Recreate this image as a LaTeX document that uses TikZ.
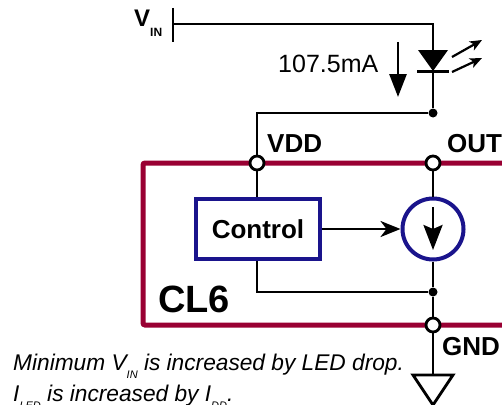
\documentclass[tikz,border=0pt]{standalone}
\usepackage{fontspec}
\setmainfont{Liberation Sans}
\usetikzlibrary{arrows.meta}
\definecolor{cred}{RGB}{153,0,51}
\definecolor{cblue}{RGB}{26,20,140}
\newcommand\subtxt[2]{\raisebox{#1}{\fontsize{11}{11}\selectfont #2}}
\begin{document}
\begin{tikzpicture}[x=1pt,y=-1pt,
  wire/.style={line width=2.8pt},
  pin/.style={circle,draw,fill=white,line width=2.8pt,minimum size=14pt,inner sep=0pt},
  dot/.style={circle,fill,minimum size=9pt,inner sep=0pt},
  lbl/.style={font=\fontsize{26}{26}\selectfont\bfseries,inner sep=0pt,anchor=base west},
  note/.style={font=\fontsize{22.7}{22.7}\selectfont\itshape,inner sep=0pt,anchor=base west},
  bluebox/.style={draw=cblue,line width=3.5pt,fill=white,minimum width=124pt,minimum height=60pt,inner sep=0pt},
  src/.style={circle,draw=cblue,line width=4pt,fill=white,minimum size=61pt,inner sep=0pt}
]
\clip (0,0) rectangle (502,404);
\fill[white] (0,0) rectangle (502,404);

% chip outline
\draw[cred,line width=5pt,rounded corners=2pt] (143,163) rectangle (530,325);

% coordinates
\coordinate (vinbarT) at (173,8);
\coordinate (vinbarB) at (173,42);
\coordinate (vin) at (173,24);
\coordinate (corner) at (433,24);
\coordinate (vddc) at (257,113);
\coordinate (ctlc) at (257,292);
\coordinate (gtop) at (433,375);

\node[dot] (jtop) at (433,113) {};
\node[dot] (jbot) at (433,292) {};

\node[bluebox] (ctl) at (258,229) {};
\node[font=\fontsize{26}{26}\selectfont\bfseries,inner sep=0pt] (ctltxt) at (258,229) {Control};
\node[src] (cs) at (433,229) {};

% wires
\draw[wire] (vinbarT) -- (vinbarB);
\draw[wire] (vin) -- (corner) -- (jtop);
\draw[wire] (jtop) -- (vddc) -- (257,163);
\draw[wire] (257,163) -- (ctl.north -| 257,163);
\draw[wire] (433,163) -- (cs.north);
\draw[wire] (cs.south) -- (jbot) -- (433,325);
\draw[wire] (ctl.south -| ctlc) -- (ctlc) -- (jbot);
\draw[wire] (433,325) -- (gtop);
\draw[wire,line join=miter] (413,375) -- (453,375) -- (433,405) -- cycle;

% pins
\node[pin] (vdd) at (257,163) {};
\node[pin] (out) at (433,163) {};
\node[pin] (gnd) at (433,325) {};

% LED
\fill (418,50) -- (448,50) -- (433,71) -- cycle;
\draw[line width=3pt] (417,71) -- (449,71);
\draw[line width=2.2pt,-{Stealth[length=12pt,width=10pt,inset=3pt]}] (452,57) -- (482,40);
\draw[line width=2.2pt,-{Stealth[length=12pt,width=10pt,inset=3pt]}] (452,72) -- (482,58);

% current arrow
\draw[line width=2.8pt,-{Triangle[length=23pt,width=17pt]}] (398,42) -- (398,97);

% control arrow
\draw[line width=2.8pt,-{Stealth[length=20pt,width=16pt,inset=6pt]}] (ctl.east) -- (cs.west);
% inner arrow
\draw[line width=2.8pt,-{Stealth[length=25pt,width=19pt,inset=4pt]}] (433,207) -- (433,250);

% labels
\node[lbl] (lvdd) at (267,152) {VDD};
\node[lbl] (lout) at (447,152) {OUT};
\node[lbl] (lgnd) at (442,355) {GND};
\node[lbl,font=\fontsize{38}{38}\selectfont\bfseries] (lcl) at (158,312) {CL6};
\node[inner sep=0pt,anchor=base west,font=\fontsize{25}{25}\selectfont] (lcur) at (278,72) {107.5mA};
\node[inner sep=0pt,anchor=base west,font=\fontsize{24}{24}\selectfont\bfseries] (lvin) at (134,27) {V\raisebox{-10pt}{\fontsize{12}{12}\selectfont IN}};

\node[note] (n1) at (13,370) {Minimum V\subtxt{-8pt}{IN} is increased by LED drop.};
\node[note] (n2) at (13,401) {I\subtxt{-8pt}{LED} is increased by I\subtxt{-8pt}{DD}.};
\end{tikzpicture}
\end{document}
